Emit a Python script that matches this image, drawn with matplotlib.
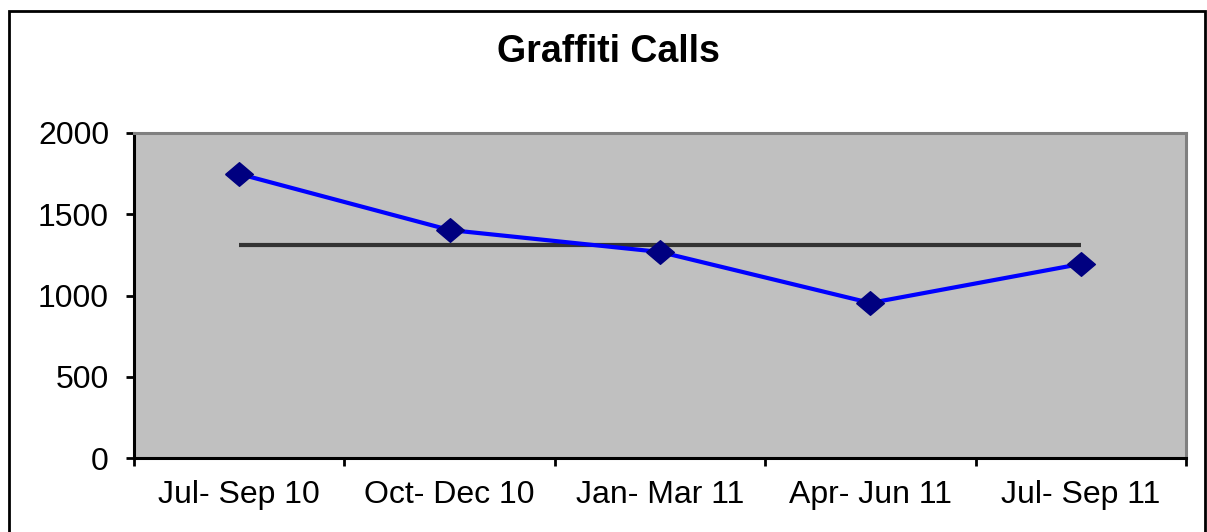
import matplotlib.pyplot as plt
from matplotlib.patches import Rectangle

# data
quarters = ['Jul- Sep 10', 'Oct- Dec 10', 'Jan- Mar 11', 'Apr- Jun 11', 'Jul- Sep 11']
calls = [1748, 1403, 1268, 954, 1194]
average = sum(calls) / len(calls)

plt.rcParams['font.family'] = ['Liberation Sans', 'DejaVu Sans']

fig = plt.figure(figsize=(12.07, 5.32), dpi=100)
ax = fig.add_axes([134 / 1207, 1 - 458 / 532, (1186 - 134) / 1207, (458 - 133) / 532])
ax.set_facecolor('#C0C0C0')

x = list(range(len(quarters)))
diamond = [(-1, 0), (0, 0.85), (1, 0), (0, -0.85), (-1, 0)]

ax.plot([x[0], x[-1]], [average, average], color='#333333', lw=3, solid_capstyle='butt', zorder=2)
ax.plot(x, calls, color='#0000FF', lw=3, marker=diamond, markersize=20,
        markerfacecolor='#000080', markeredgecolor='#000080', zorder=3)

ax.set_xlim(-0.5, len(quarters) - 0.5)
ax.set_ylim(0, 2000)
ax.set_yticks([0, 500, 1000, 1500, 2000])
ax.set_xticks(x)
ax.set_xticklabels(quarters)
ax.set_xticks([i - 0.5 for i in range(len(quarters) + 1)], minor=True)
ax.tick_params(axis='x', which='major', length=0, labelsize=23, pad=16)
ax.tick_params(axis='x', which='minor', length=6, width=2, direction='out')
ax.tick_params(axis='y', length=6, width=2, labelsize=23, pad=12)

for s in ['left', 'bottom']:
    ax.spines[s].set_color('black')
    ax.spines[s].set_linewidth(2.2)
for s in ['top', 'right']:
    ax.spines[s].set_color('#808080')
    ax.spines[s].set_linewidth(2.2)

fig.text(608 / 1207, 1 - 52 / 532, 'Graffiti Calls', ha='center', va='center',
         fontsize=27, fontweight='bold')

# outer chart border
fig.patches.append(Rectangle((9 / 1207, -0.02), (1205 - 9) / 1207, 1 - 11 / 532 + 0.02,
                             transform=fig.transFigure, fill=False, edgecolor='black', lw=2))

fig.savefig('out.png', dpi=100)
